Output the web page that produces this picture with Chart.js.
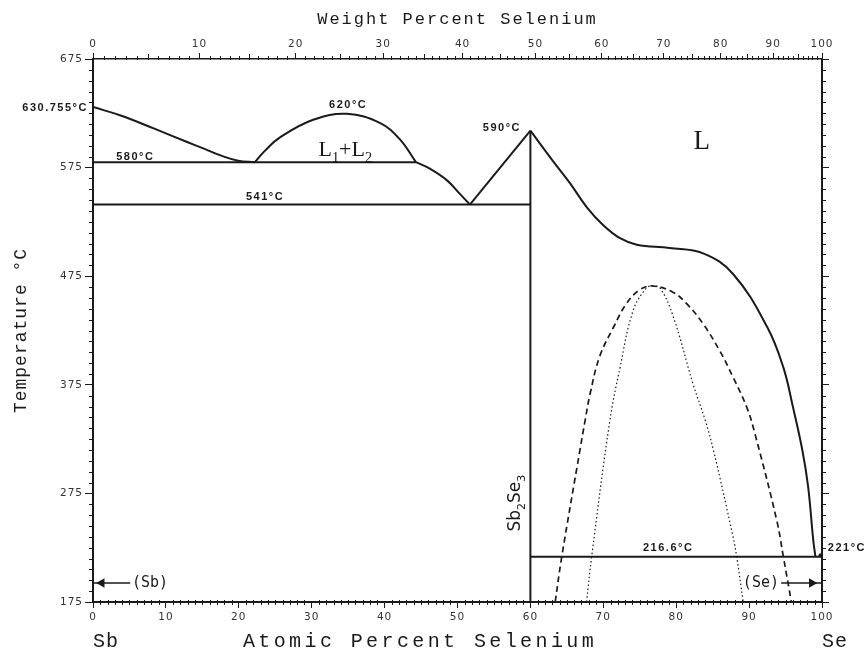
<!DOCTYPE html>
<html>
<head>
<meta charset="utf-8">
<script src="https://cdn.jsdelivr.net/npm/chart.js@4"></script>
<style>
html, body { margin: 0; padding: 0; background: #fff; }
</style>
</head>
<body>
<canvas id="phaseChart" width="867" height="651"></canvas>
<script>
// Sb-Se phase diagram, x = atomic % Se, y = temperature in C

// liquidus from pure Sb down to the monotectic
const sbLiqX = [0, 3.9, 8.5, 13.0, 15.3, 17.6, 19.9, 22.2];
const sbLiqT = [630.755, 622.8, 610.6, 598.3, 592.2, 586, 581.4, 580];

// L1+L2 miscibility dome
const domeX = [22.2, 23.6, 25.7, 30.2, 34.8, 39.4, 42.1, 44.3];
const domeT = [580, 590.6, 603, 619, 624.5, 616, 601, 580];

// liquidus from the monotectic down to the eutectic
const dropX = [44.3, 46.2, 48.6, 50.3, 51.7];
const dropT = [580, 574, 563, 551, 541];

// eutectic up to Sb2Se3 melting point
const riseX = [51.7, 60];
const riseT = [541, 609];

// liquidus from Sb2Se3 to pure Se
const seLiqX = [60, 63.1, 65.4, 67.8, 70.0, 72.3, 74.6, 79.1, 83.7, 87.8, 92.5, 94.7, 96.0, 97.3, 98.1, 98.8, 99.1];
const seLiqT = [609, 581, 561, 538, 522, 510, 504, 501, 496, 477, 428, 391, 355, 315, 281, 232, 216.6];

// dashed gap
const dashX = [63.4, 64.3, 66.8, 67.5, 68.2, 69.5, 71.4, 73.2, 75.0, 76.8, 79.6, 81.4, 83.7, 86.0, 87.8, 89.7, 90.8, 93.8, 94.7, 95.8];
const dashT = [175, 216.6, 315, 342, 367, 401, 428, 450, 462.5, 466, 460, 450, 431, 406, 382, 354, 330, 250, 216.6, 175];

// dotted gap
const dotX = [67.7, 68.4, 70.9, 72.3, 74.1, 75.9, 76.8, 77.8, 79.6, 82.3, 84.0, 85.1, 87.8, 88.3, 89.2];
const dotT = [175, 216.6, 342, 391, 443.5, 464, 466, 464, 437.7, 376, 342, 315, 235, 216.6, 175];

// isotherms and the compound line
const monoX = [0, 44.3];
const monoT = [580, 580];
const eutX = [0, 60];
const eutT = [541, 541];
const seEutX = [60, 100];
const seEutT = [216.6, 216.6];
const compX = [60, 60];
const compT = [609, 175];

// terminal solid solution arrows
const sbArrowX = [5.1, 1.2, 0];
const seArrowX = [94.4, 98.6, 100];
const arrowT = 192.5;

// axes
const yTicks = [175, 275, 375, 475, 575, 675];
const weightTickLabels = ['0', '10', '20', '30', '40', '50', '60', '70', '80', '90', '100'];
const weightTickAt = [0, 14.6, 27.8, 39.8, 50.7, 60.7, 69.8, 78.3, 86.1, 93.3, 100];

const INK = '#1a1a1a';

function pts(xs, ys) {
    return xs.map((x, i) => ({ x: x, y: Array.isArray(ys) ? ys[i] : ys }));
}

function curve(xs, ys, extra) {
    return Object.assign({
        data: pts(xs, ys),
        showLine: true,
        borderColor: INK,
        borderWidth: 2,
        pointRadius: 0,
        fill: false,
        tension: 0.4
    }, extra || {});
}

// weight % -> atomic % (only for the minor ticks of the top axis)
function wtToAt(w) {
    const se = w / 78.97, sb = (100 - w) / 121.76;
    return 100 * se / (se + sb);
}

// text bits with subscripts
function drawParts(ctx, parts, x, y, size, family) {
    let w = 0;
    parts.forEach(p => {
        ctx.font = (p.sub ? size * 0.65 : size) + 'px ' + family;
        w += ctx.measureText(p.t).width;
    });
    let cx = x - w / 2;
    ctx.textAlign = 'left';
    parts.forEach(p => {
        ctx.font = (p.sub ? size * 0.65 : size) + 'px ' + family;
        ctx.fillText(p.t, cx, p.sub ? y + size * 0.3 : y);
        cx += ctx.measureText(p.t).width;
    });
}

const tempLabels = [
    { t: '630.755°C', x: -0.7, y: 630.2, align: 'right' },
    { t: '620°C', x: 35.0, y: 632.9, align: 'center' },
    { t: '580°C', x: 5.8, y: 585.1, align: 'center' },
    { t: '541°C', x: 23.6, y: 548.3, align: 'center' },
    { t: '590°C', x: 56.1, y: 611.8, align: 'center' },
    { t: '216.6°C', x: 78.9, y: 224.7, align: 'center' },
    { t: '221°C', x: 100.8, y: 224.7, align: 'left' }
];

const decorPlugin = {
    id: 'decor',
    beforeDraw(chart) {
        chart.ctx.letterSpacing = '1px';
    },
    afterDraw(chart) {
        const { ctx, chartArea: a, scales } = chart;
        const sx = scales.x, sy = scales.y, sx2 = scales.x2;
        ctx.save();
        ctx.strokeStyle = INK;
        ctx.lineWidth = 1;
        ctx.beginPath();
        // bottom minor ticks
        for (let i = 1; i < 100; i++) {
            if (i % 10 === 0) continue;
            const px = Math.round(sx.getPixelForValue(i)) + 0.5;
            ctx.moveTo(px, a.bottom - 2);
            ctx.lineTo(px, a.bottom + 3);
        }
        // left and right minor ticks
        for (let t = 185; t < 675; t += 10) {
            if ((t - 175) % 100 === 0) continue;
            const py = Math.round(sy.getPixelForValue(t)) + 0.5;
            ctx.moveTo(a.left - 4, py);
            ctx.lineTo(a.left, py);
            ctx.moveTo(a.right, py);
            ctx.lineTo(a.right + 4, py);
        }
        // top minor ticks
        for (let w = 1; w < 100; w++) {
            if (w % 10 === 0) continue;
            const px = Math.round(sx2.getPixelForValue(wtToAt(w))) + 0.5;
            const len = w % 5 === 0 ? 5 : 3;
            ctx.moveTo(px, a.top - len);
            ctx.lineTo(px, a.top + 1);
        }
        ctx.stroke();

        // marker at the Se melting point
        ctx.fillStyle = INK;
        ctx.beginPath();
        ctx.arc(sx.getPixelForValue(99.8), sy.getPixelForValue(218), 2, 0, Math.PI * 2);
        ctx.fill();

        ctx.textBaseline = 'middle';

        // temperature labels
        ctx.letterSpacing = '1.5px';
        ctx.font = 'bold 11px "Liberation Sans"';
        tempLabels.forEach(l => {
            ctx.textAlign = l.align;
            ctx.fillText(l.t, sx.getPixelForValue(l.x), sy.getPixelForValue(l.y));
        });

        // phase fields
        ctx.letterSpacing = '0px';
        ctx.textBaseline = 'alphabetic';
        drawParts(ctx, [{ t: 'L' }, { t: '1', sub: true }, { t: '+L' }, { t: '2', sub: true }],
            sx.getPixelForValue(34.6), sy.getPixelForValue(586), 22, '"Liberation Serif"');
        ctx.font = '27px "Liberation Serif"';
        ctx.textAlign = 'center';
        ctx.fillText('L', sx.getPixelForValue(83.5), sy.getPixelForValue(592));

        // compound label, vertical
        ctx.save();
        ctx.translate(sx.getPixelForValue(58.6), sy.getPixelForValue(266));
        ctx.rotate(-Math.PI / 2);
        drawParts(ctx, [{ t: 'Sb' }, { t: '2', sub: true }, { t: 'Se' }, { t: '3', sub: true }],
            0, 0, 17, '"DejaVu Sans"');
        ctx.restore();

        // terminal solutions
        ctx.font = '15px "DejaVu Sans Mono"';
        ctx.textBaseline = 'middle';
        ctx.textAlign = 'left';
        ctx.fillText('(Sb)', sx.getPixelForValue(5.35), sy.getPixelForValue(arrowT));
        ctx.textAlign = 'right';
        ctx.fillText('(Se)', sx.getPixelForValue(94.1), sy.getPixelForValue(arrowT));

        // axis titles and end members
        ctx.textBaseline = 'alphabetic';
        ctx.font = '17px "Liberation Mono"';
        ctx.letterSpacing = '2px';
        ctx.textAlign = 'center';
        ctx.fillText('Weight Percent Selenium', (a.left + a.right) / 2, 24);

        ctx.font = '20px "Liberation Mono"';
        ctx.letterSpacing = '3.4px';
        ctx.fillText('Atomic Percent Selenium', 420, 647);
        ctx.letterSpacing = '1px';
        ctx.textAlign = 'left';
        ctx.fillText('Sb', sx.getPixelForValue(0), 647);
        ctx.fillText('Se', sx.getPixelForValue(100), 647);

        ctx.save();
        ctx.translate(21, (a.top + a.bottom) / 2);
        ctx.rotate(-Math.PI / 2);
        ctx.font = '18px "Liberation Mono"';
        ctx.letterSpacing = '1px';
        ctx.textAlign = 'center';
        ctx.textBaseline = 'middle';
        ctx.fillText('Temperature °C', 0, 0);
        ctx.restore();

        ctx.restore();
    }
};

const datasets = [
    curve(sbLiqX, sbLiqT),
    curve(domeX, domeT),
    curve(dropX, dropT),
    curve(riseX, riseT, { tension: 0 }),
    curve(seLiqX, seLiqT),
    curve(dashX, dashT, { borderDash: [6, 4], borderWidth: 1.7 }),
    curve(dotX, dotT, { borderDash: [1.5, 2.5], borderWidth: 1.2 }),
    curve(monoX, monoT, { tension: 0 }),
    curve(eutX, eutT, { tension: 0 }),
    curve(seEutX, seEutT, { tension: 0 }),
    curve(compX, compT, { tension: 0 }),
    curve(sbArrowX, arrowT, {
        tension: 0, borderWidth: 1.5, pointRadius: [0, 4, 0],
        pointStyle: 'triangle', rotation: 270, pointBackgroundColor: INK, pointBorderColor: INK
    }),
    curve(seArrowX, arrowT, {
        tension: 0, borderWidth: 1.5, pointRadius: [0, 4, 0],
        pointStyle: 'triangle', rotation: 90, pointBackgroundColor: INK, pointBorderColor: INK
    })
];

const tickFont = { family: '"DejaVu Sans"', size: 10.5 };

new Chart(document.getElementById('phaseChart'), {
    type: 'scatter',
    data: { datasets: datasets },
    options: {
        responsive: false,
        animation: false,
        layout: { padding: 0 },
        plugins: {
            legend: { display: false },
            tooltip: { enabled: false }
        },
        scales: {
            x: {
                type: 'linear', position: 'bottom', min: 0, max: 100,
                ticks: { stepSize: 10, color: '#333', font: tickFont, padding: 3, maxRotation: 0 },
                grid: { drawOnChartArea: false, tickLength: 6, color: INK },
                border: { display: true, color: INK, width: 2 },
                afterFit(scale) { scale.height = 49; }
            },
            x2: {
                type: 'linear', position: 'top', min: 0, max: 100,
                afterBuildTicks(scale) { scale.ticks = weightTickAt.map(v => ({ value: v })); },
                ticks: {
                    autoSkip: false, maxRotation: 0, color: '#333', font: tickFont, padding: 2,
                    callback: (v, i) => weightTickLabels[i]
                },
                grid: { drawOnChartArea: false, tickLength: 6, color: INK },
                border: { display: true, color: INK, width: 1.5 },
                afterFit(scale) { scale.height = 59; }
            },
            y: {
                type: 'linear', position: 'left', min: 175, max: 675,
                afterBuildTicks(scale) { scale.ticks = yTicks.map(v => ({ value: v })); },
                ticks: { color: '#333', font: tickFont, padding: 2 },
                grid: { drawOnChartArea: false, tickLength: 8, color: INK },
                border: { display: true, color: INK, width: 2 },
                afterFit(scale) { scale.width = 93; }
            },
            y2: {
                type: 'linear', position: 'right', min: 175, max: 675,
                afterBuildTicks(scale) { scale.ticks = yTicks.map(v => ({ value: v })); },
                ticks: { display: false },
                grid: { drawOnChartArea: false, tickLength: 7, color: INK },
                border: { display: true, color: INK, width: 2 },
                afterFit(scale) { scale.width = 45; }
            }
        }
    },
    plugins: [decorPlugin]
});
</script>
</body>
</html>
